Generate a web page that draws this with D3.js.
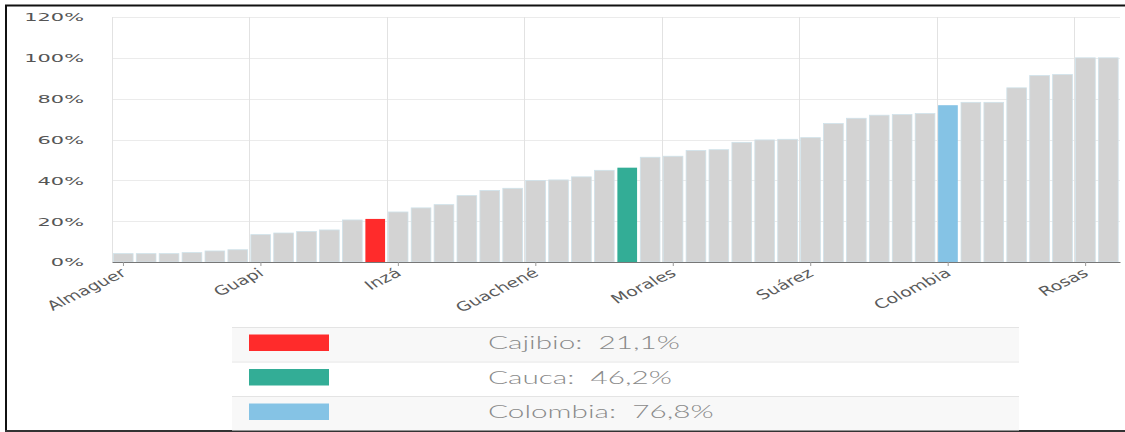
<!DOCTYPE html>
<html><head><meta charset="utf-8">
<script src="https://cdn.jsdelivr.net/npm/d3@7"></script>
<style>
html,body{margin:0;padding:0;background:#fff;}
svg{display:block;}
</style>
</head><body>
<svg id="chart" width="1125" height="432"></svg>
<script>
// ---- data ----
const categories = ["Almaguer","López de Micay","Timbiquí","Argelia","Piamonte","Sucre","Guapi","La Vega","Balboa","Bolívar","San Sebastián","Cajibio","Inzá","Páez","Totoró","Jambaló","Santa Rosa","Toribío","Guachené","Sotará","El Tambo","Caldono","Cauca","Silvia","Morales","La Sierra","Mercaderes","Florencia","Buenos Aires","Puracé","Suárez","Patía","Caloto","Timbío","Padilla","Piendamó","Colombia","Corinto","Miranda","Santander de Quilichao","Villa Rica","Puerto Tejada","Rosas","Popayán"];
const values = [4.1,4.1,4.1,4.6,5.4,6.0,13.4,14.2,14.9,15.7,20.6,21.1,24.5,26.5,28.1,32.5,35.0,36.1,39.9,40.2,41.7,44.9,46.2,51.3,51.8,54.6,55.0,58.6,59.8,60.1,60.9,67.8,70.4,71.9,72.2,72.7,76.8,78.2,78.2,85.3,91.3,91.8,100,100];
const tickLabels = ["Almaguer","Guapi","Inzá","Guachené","Morales","Suárez","Colombia","Rosas"];
const yTicks = [0,20,40,60,80,100,120];
const highlightNames = ["Cajibio","Cauca","Colombia"];
const highlightColors = ["#ff2b2b","#33ad96","#85c3e5"];
const legendValues = ["21,1%","46,2%","76,8%"];

// ---- layout ----
const svg = d3.select("#chart");
const plot = {left:112, right:1120, top:17, bottom:262};
const x = d3.scaleBand().domain(categories).range([plot.left, plot.right]).padding(0);
const y = d3.scaleLinear().domain([0,120]).range([plot.bottom, plot.top]);
const colorOf = d => { const i = highlightNames.indexOf(d); return i >= 0 ? highlightColors[i] : "#d3d3d3"; };

// frame
svg.append("line").attr("x1",5).attr("x2",1125).attr("y1",5.5).attr("y2",5.5).attr("stroke","#111").attr("stroke-width",2);
svg.append("line").attr("x1",6).attr("x2",6).attr("y1",5).attr("y2",432).attr("stroke","#111").attr("stroke-width",2);
svg.append("line").attr("x1",5).attr("x2",1125).attr("y1",431).attr("y2",431).attr("stroke","#333").attr("stroke-width",2);

// horizontal grid
svg.append("g").selectAll("line").data(yTicks.filter(t=>t>0)).join("line")
  .attr("x1",plot.left).attr("x2",plot.right)
  .attr("y1",d=>Math.round(y(d))+0.5).attr("y2",d=>Math.round(y(d))+0.5)
  .attr("stroke","#ebebeb").attr("stroke-width",1);

// vertical grid at band start of labelled categories
const tickCats = categories.filter(c => tickLabels.includes(c));
svg.append("g").selectAll("line").data(tickCats).join("line")
  .attr("x1",d=>Math.round(x(d))+0.5).attr("x2",d=>Math.round(x(d))+0.5)
  .attr("y1",plot.top).attr("y2",plot.bottom)
  .attr("stroke","#e2e2e2").attr("stroke-width",1);

// bars
const bw = x.bandwidth();
svg.append("g").selectAll("rect").data(categories).join("rect")
  .attr("x",d=>x(d)+bw*0.06)
  .attr("width",bw*0.86)
  .attr("y",(d,i)=>y(values[i]))
  .attr("height",(d,i)=>y(0)-y(values[i]))
  .attr("fill",colorOf)
  .attr("stroke",d=>highlightNames.includes(d)?"none":"#cfe2ea")
  .attr("stroke-width",0.8);

// x axis
const xAxis = d3.axisBottom(x).tickValues(tickCats).tickSize(4).tickSizeOuter(0)
  .tickFormat(d => d);
const gx = svg.append("g").attr("transform",`translate(0,${plot.bottom})`).call(xAxis);
gx.select(".domain").attr("stroke","#777");
gx.selectAll(".tick line").attr("stroke","#999");
gx.selectAll(".tick text")
  .attr("x",null).attr("y",null).attr("dy",null)
  .attr("text-anchor","end")
  .attr("font-family","DejaVu Sans").attr("font-size",13).attr("fill","#5a5a5a")
  .attr("transform","translate(4,13) scale(1.45,1) rotate(-35)");

// y axis
const yAxis = d3.axisLeft(y).tickValues(yTicks).tickSize(0).tickFormat(d=>d+"%");
const gy = svg.append("g").attr("transform",`translate(${plot.left},0)`).call(yAxis);
gy.select(".domain").remove();
gy.selectAll(".tick text")
  .attr("x",null).attr("dy","0.36em")
  .attr("text-anchor","end")
  .attr("font-family","DejaVu Sans").attr("font-size",11).attr("fill","#555")
  .attr("transform","translate(-28,0) scale(1.9,1)");

// legend table
const leg = {left:232, right:1019, top:327, rowH:34.5};
const rows = svg.append("g").selectAll("g").data(highlightNames).join("g")
  .attr("transform",(d,i)=>`translate(0,${leg.top + i*leg.rowH})`);
rows.append("rect").attr("x",leg.left).attr("width",leg.right-leg.left).attr("height",leg.rowH)
  .attr("fill",(d,i)=> i===1 ? "#ffffff" : "#f8f8f8");
rows.append("line").attr("x1",leg.left).attr("x2",leg.right).attr("y1",0.5).attr("y2",0.5)
  .attr("stroke","#e4e4e4");
rows.append("rect").attr("x",249).attr("y",7.5).attr("width",80).attr("height",16.5)
  .attr("fill",(d,i)=>highlightColors[i]);
rows.append("text")
  .attr("text-anchor","start")
  .attr("font-family","Lato").attr("font-weight",300).attr("font-size",17).attr("fill","#8a8a8a")
  .attr("transform","translate(488,22) scale(1.75,1)")
  .text((d,i)=>`${d}:  ${legendValues[i]}`)
  .attr("xml:space","preserve").style("white-space","pre");
</script>
</body></html>
